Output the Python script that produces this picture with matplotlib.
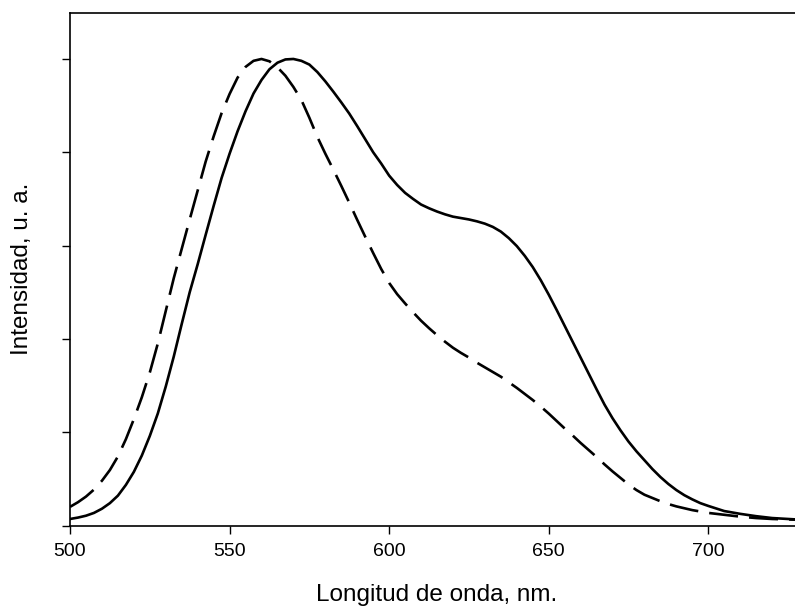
"""
Emission spectra of the two samples (normalised intensity vs wavelength).

Writes out.png (795x609 px).
"""

from __future__ import annotations

import matplotlib

matplotlib.use("Agg")
import matplotlib.pyplot as plt

# --- Data (peak normalised to 1) -------------------------------------------
WAVELENGTH_NM = [
    500.0, 502.5, 505.0, 507.5, 510.0, 512.5, 515.0, 517.5, 520.0, 522.5,
    525.0, 527.5, 530.0, 532.5, 535.0, 537.5, 540.0, 542.5, 545.0, 547.5,
    550.0, 552.5, 555.0, 557.5, 560.0, 562.5, 565.0, 567.5, 570.0, 572.5,
    575.0, 577.5, 580.0, 582.5, 585.0, 587.5, 590.0, 592.5, 595.0, 597.5,
    600.0, 602.5, 605.0, 607.5, 610.0, 612.5, 615.0, 617.5, 620.0, 622.5,
    625.0, 627.5, 630.0, 632.5, 635.0, 637.5, 640.0, 642.5, 645.0, 647.5,
    650.0, 652.5, 655.0, 657.5, 660.0, 662.5, 665.0, 667.5, 670.0, 672.5,
    675.0, 677.5, 680.0, 682.5, 685.0, 687.5, 690.0, 692.5, 695.0, 697.5,
    700.0, 705.0, 710.0, 715.0, 720.0, 725.0, 730.0,
]

# solid curve
INTENSITY_A = [
    0.014, 0.017, 0.021, 0.027, 0.036, 0.048, 0.064, 0.087, 0.115, 0.150,
    0.192, 0.240, 0.298, 0.362, 0.432, 0.500, 0.560, 0.623, 0.685, 0.745,
    0.797, 0.845, 0.888, 0.926, 0.955, 0.978, 0.992, 0.999, 1.000, 0.996,
    0.988, 0.972, 0.952, 0.930, 0.907, 0.883, 0.856, 0.828, 0.800, 0.776,
    0.750, 0.730, 0.713, 0.700, 0.688, 0.680, 0.673, 0.667, 0.662, 0.659,
    0.656, 0.652, 0.647, 0.640, 0.630, 0.616, 0.599, 0.578, 0.554, 0.526,
    0.495, 0.462, 0.428, 0.394, 0.360, 0.326, 0.292, 0.259, 0.230, 0.204,
    0.180, 0.159, 0.140, 0.121, 0.104, 0.089, 0.076, 0.065, 0.056, 0.048,
    0.042, 0.031, 0.025, 0.020, 0.016, 0.014, 0.012,
]

# dashed curve
INTENSITY_B = [
    0.040, 0.050, 0.062, 0.077, 0.096, 0.119, 0.148, 0.185, 0.228, 0.275,
    0.328, 0.390, 0.460, 0.530, 0.593, 0.656, 0.718, 0.780, 0.834, 0.884,
    0.925, 0.960, 0.983, 0.996, 1.000, 0.995, 0.982, 0.964, 0.940, 0.912,
    0.874, 0.833, 0.797, 0.763, 0.728, 0.692, 0.655, 0.619, 0.584, 0.550,
    0.520, 0.496, 0.476, 0.457, 0.439, 0.423, 0.408, 0.394, 0.381, 0.370,
    0.360, 0.349, 0.339, 0.329, 0.319, 0.307, 0.295, 0.282, 0.269, 0.255,
    0.240, 0.224, 0.208, 0.193, 0.177, 0.162, 0.147, 0.131, 0.116, 0.102,
    0.088, 0.076, 0.066, 0.059, 0.052, 0.046, 0.041, 0.037, 0.033, 0.030,
    0.027, 0.023, 0.019, 0.016, 0.014, 0.013, 0.012,
]

X_TICKS = [500, 550, 600, 650, 700]
Y_TICKS = [0.0, 0.2, 0.4, 0.6, 0.8, 1.0]

FONT = ["Liberation Sans", "DejaVu Sans"]


def main() -> None:
    plt.rcParams["font.family"] = FONT

    fig = plt.figure(figsize=(7.95, 6.09), dpi=100)
    # right edge sits just past the figure border, as in the cropped original
    ax = fig.add_axes([0.0881, 0.1371, 0.9232, 0.8416])

    ax.plot(WAVELENGTH_NM, INTENSITY_A, color="black", lw=1.9,
            solid_joinstyle="round", solid_capstyle="round")
    ax.plot(WAVELENGTH_NM, INTENSITY_B, color="black", lw=1.9,
            dashes=(11, 4.2), dash_capstyle="butt", dash_joinstyle="round")

    ax.set_xlim(500, 730)
    ax.set_ylim(0, 1.0986)
    ax.set_xticks(X_TICKS)
    ax.set_yticks(Y_TICKS)
    ax.set_yticklabels([])

    for side in ("left", "bottom", "top", "right"):
        ax.spines[side].set_linewidth(1.2)
    ax.tick_params(direction="out", length=5.5, width=1.0, labelsize=14, pad=7)

    ax.set_xlabel("Longitud de onda, nm.", fontsize=17.5)
    ax.set_ylabel("Intensidad, u. a.", fontsize=17.5)
    ax.xaxis.set_label_coords(0.5, -0.115)
    ax.yaxis.set_label_coords(-0.050, 0.5)

    fig.savefig("out.png", dpi=100)
    plt.close(fig)


if __name__ == "__main__":
    main()
